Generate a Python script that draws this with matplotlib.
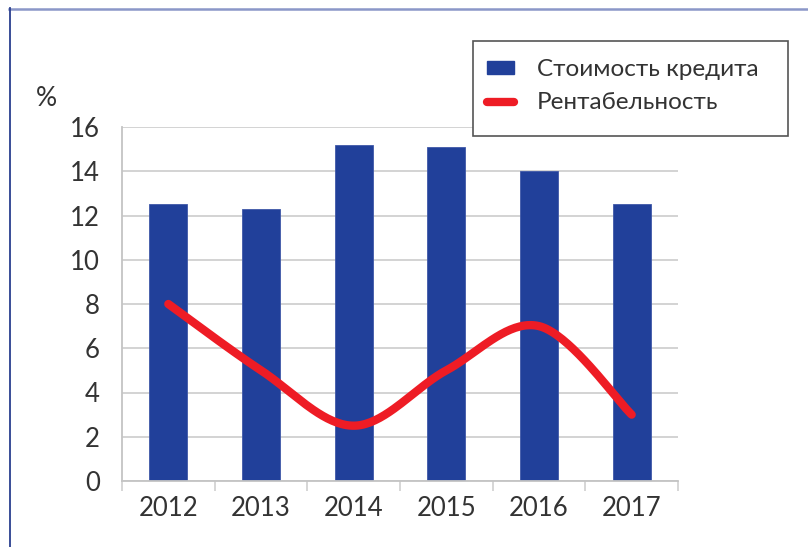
import matplotlib
matplotlib.use("Agg")
import matplotlib.pyplot as plt
import numpy as np
from matplotlib.lines import Line2D
from matplotlib.patches import Patch, Rectangle

plt.rcParams['font.family'] = ['Lato', 'DejaVu Sans']

years = ["2012", "2013", "2014", "2015", "2016", "2017"]
credit_cost = [12.5, 12.3, 15.2, 15.1, 14.0, 12.5]
profitability = [8.0, 5.0, 2.5, 5.0, 7.0, 3.0]

BAR_COLOR = "#21409a"
LINE_COLOR = "#ee1c25"
TEXT_COLOR = "#333333"
GRID_COLOR = "#d0d0d0"


def smooth_curve(x, y, steps=40):
    """Catmull-Rom style smoothing through every point (like spreadsheet 'smoothed line')."""
    x = np.asarray(x, float)
    y = np.asarray(y, float)
    px = np.concatenate([[x[0]], x, [x[-1]]])
    py = np.concatenate([[y[0]], y, [y[-1]]])
    xs, ys = [], []
    t = np.linspace(0, 1, steps)
    for i in range(1, len(px) - 2):
        p0 = np.array([px[i], py[i]])
        p3 = np.array([px[i + 1], py[i + 1]])
        p1 = p0 + (np.array([px[i + 1], py[i + 1]]) - np.array([px[i - 1], py[i - 1]])) / 6
        p2 = p3 - (np.array([px[i + 2], py[i + 2]]) - np.array([px[i], py[i]])) / 6
        b = ((1 - t) ** 3)[:, None] * p0 + (3 * (1 - t) ** 2 * t)[:, None] * p1 \
            + (3 * (1 - t) * t ** 2)[:, None] * p2 + (t ** 3)[:, None] * p3
        xs.append(b[:, 0])
        ys.append(b[:, 1])
    return np.concatenate(xs), np.concatenate(ys)


fig = plt.figure(figsize=(8.08, 5.47), dpi=100)
ax = fig.add_axes([122 / 808, 1 - 481 / 547, 556 / 808, 354 / 547])

x = np.arange(len(years))
ax.bar(x, credit_cost, width=0.41, color=BAR_COLOR, edgecolor="#3f58a8",
       linewidth=0.6, zorder=2)
sx, sy = smooth_curve(x, profitability)
ax.plot(sx, sy, color=LINE_COLOR, lw=6, solid_capstyle="round",
        solid_joinstyle="round", zorder=3)

ax.set_xlim(-0.5, len(years) - 0.5)
ax.set_ylim(0, 16)
ax.set_yticks(range(0, 17, 2))
ax.yaxis.grid(True, color=GRID_COLOR, lw=1.3, zorder=0)
ax.set_axisbelow(True)

ax.set_xticks(x)
ax.set_xticklabels(years)
ax.set_xticks(np.arange(-0.5, len(years)), minor=True)
ax.tick_params(axis="x", which="major", length=0, pad=11,
               labelsize=18.5, labelcolor=TEXT_COLOR)
ax.tick_params(axis="x", which="minor", length=7, width=1.2, color=GRID_COLOR)
ax.tick_params(axis="y", length=0, pad=16, labelsize=18.5, labelcolor=TEXT_COLOR)

for side in ("top", "right"):
    ax.spines[side].set_visible(False)
for side in ("left", "bottom"):
    ax.spines[side].set_color("#c4c4c4")
    ax.spines[side].set_linewidth(1.3)

fig.text(46 / 808, 1 - 98 / 547, "%", fontsize=19, color=TEXT_COLOR,
         ha="center", va="center")

# legend box drawn separately so it can keep extra room at the bottom
fig.patches.append(Rectangle((473 / 808, 1 - 136 / 547), 315 / 808, 95 / 547,
                             transform=fig.transFigure, facecolor="white",
                             edgecolor="#555555", lw=1.2, zorder=5))
handles = [Patch(facecolor=BAR_COLOR, edgecolor=BAR_COLOR),
           Line2D([0], [0], color=LINE_COLOR, lw=6, solid_capstyle="round")]
leg = fig.legend(handles, ["Стоимость кредита", "Рентабельность"],
                 loc="upper left", bbox_to_anchor=(470 / 808, 1 - 42 / 547),
                 frameon=False, fontsize=17.5, labelcolor=TEXT_COLOR,
                 handlelength=1.1, handleheight=0.45, handletextpad=0.95,
                 labelspacing=0.5, borderpad=0.2)
leg.set_zorder(6)

# outer frame: thin blue-grey top rule and darker left rule
fig.add_artist(Line2D([9 / 808, 1], [1 - 8.5 / 547] * 2, transform=fig.transFigure,
                      color="#8b97c8", lw=1.8))
fig.add_artist(Line2D([9.5 / 808] * 2, [0, 1 - 8 / 547], transform=fig.transFigure,
                      color="#2a3f8f", lw=1.3))

fig.savefig("out.png", dpi=100)
